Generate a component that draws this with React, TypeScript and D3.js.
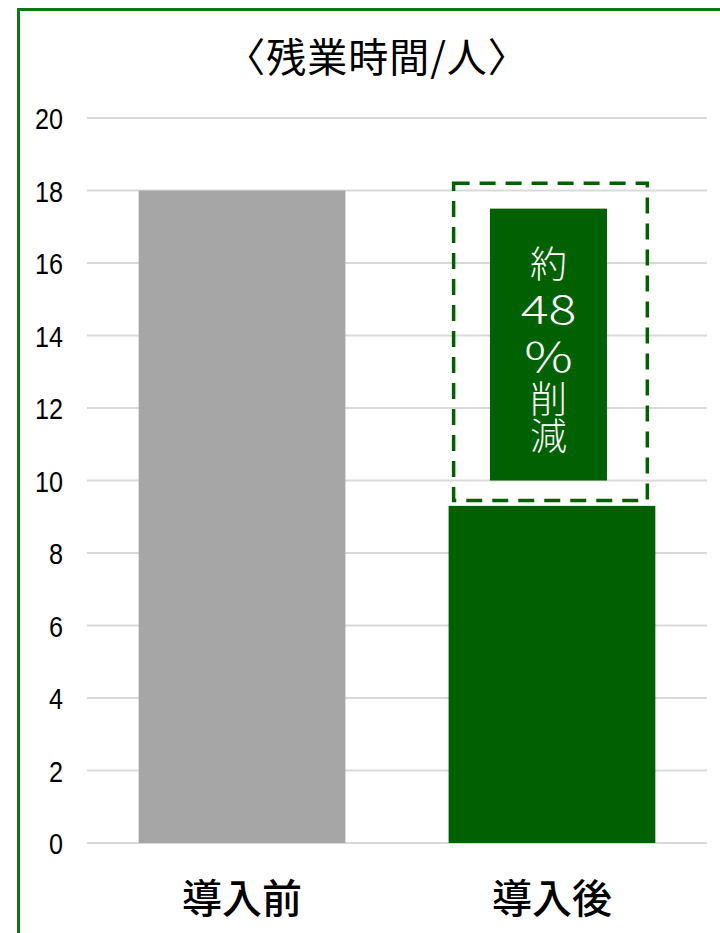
import React from "react";
import * as d3 from "d3";

const categories = ["導入前", "導入後"];
const values = [18, 9.3];
const barColors = ["#a6a6a6", "#006100"];
const yTicks = [0, 2, 4, 6, 8, 10, 12, 14, 16, 18, 20];
const title = "〈残業時間/人〉";
const calloutLines = ["約", "48", "％", "削", "減"];
const calloutRange = [10, 17.5];
const dashedRange = [9.45, 18.2];

export default function App() {
  const W = 720, H = 933;
  const y = d3.scaleLinear().domain([0, 20]).range([843, 118]);
  const x = d3.scaleBand<string>().domain(categories).range([87, 707]).paddingInner(0.333).paddingOuter(0.1667);
  const bw = x.bandwidth();
  const c2 = x(categories[1])!;
  const cx2 = c2 + bw / 2 - 3.5;
  const boxW = 117;
  const dashL = c2 + 5, dashR = c2 + bw - 8;
  const boxTop = y(calloutRange[1]), boxBot = y(calloutRange[0]);
  const lineYs = [262, 306, 355, 397, 434];
  const sizes = [37, 40, 40, 37, 37];
  const sx = [1, 1.3, 1.35, 1, 1];
  return (
    <svg width={W} height={H} style={{ position: "absolute", left: 0, top: 0, background: "#fff" }}>
      <rect x={0} y={0} width={W} height={H} fill="#fff" />
      <rect x={18.5} y={9.5} width={800} height={1000} fill="none" stroke="#0f770f" strokeWidth={3} />
      <text x={377} y={72} textAnchor="middle" fontFamily="'Noto Sans CJK JP'" fontSize={40} letterSpacing={1} fill="#000">{title}</text>
      {yTicks.map((t) => (
        <g key={t}>
          <line x1={87} x2={707} y1={y(t)} y2={y(t)} stroke="#d9d9d9" strokeWidth={2} />
          <text transform={`translate(63,${y(t) + 11}) scale(0.84,1)`} textAnchor="end" fontFamily="'Liberation Sans', Arial" fontSize={30} fill="#000">{t}</text>
        </g>
      ))}
      {categories.map((c, i) => (
        <rect key={c} x={x(c)} y={y(values[i])} width={bw} height={y(0) - y(values[i])} fill={barColors[i]} />
      ))}
      {categories.map((c) => (
        <text key={c} x={x(c)! + bw / 2} y={913} textAnchor="middle" fontFamily="'Noto Sans CJK JP'" fontWeight={500} fontSize={40} fill="#000">{c}</text>
      ))}
      <rect x={dashL} y={y(dashedRange[1])} width={dashR - dashL} height={y(dashedRange[0]) - y(dashedRange[1])} fill="none" stroke="#006100" strokeWidth={3.5} strokeDasharray="16 10" />
      <rect x={cx2 - boxW / 2} y={boxTop} width={boxW} height={boxBot - boxTop} fill="#006100" />
      {calloutLines.map((s, i) => (
        <text key={i} transform={`translate(${cx2},${lineYs[i]}) scale(${sx[i]},1)`} dominantBaseline="central" textAnchor="middle" fontFamily="'Noto Sans CJK JP'" fontWeight={300} fontSize={sizes[i]} fill="#fff">{s}</text>
      ))}
    </svg>
  );
}
